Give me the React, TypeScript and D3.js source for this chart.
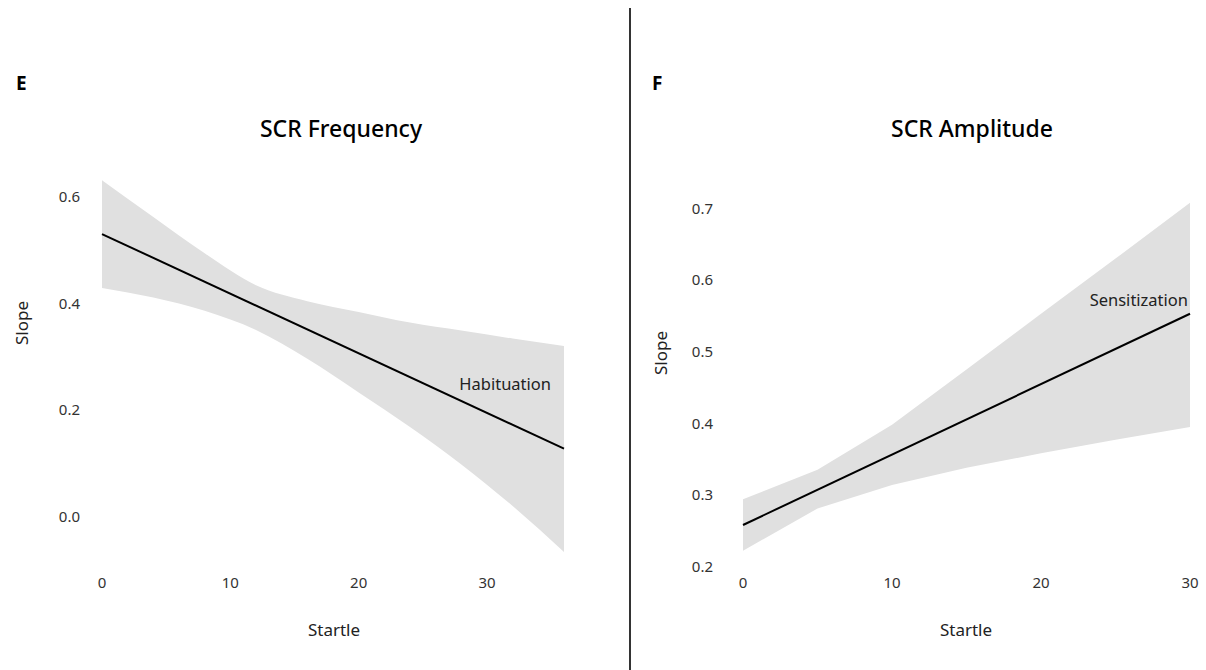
import React from "react";
import * as d3 from "d3";

// Panel E: SCR Frequency
const freqX = [0, 4, 8, 12, 16, 20, 24, 28, 32, 36];
const freqUpper = [0.631, 0.562, 0.494, 0.434, 0.404, 0.384, 0.364, 0.349, 0.334, 0.32];
const freqLower = [0.429, 0.411, 0.386, 0.35, 0.296, 0.233, 0.168, 0.098, 0.02, -0.066];
const freqFit = [0.53, 0.1275];
const freqXTicks = [0, 10, 20, 30];
const freqYTicks = [0.0, 0.2, 0.4, 0.6];

// Panel F: SCR Amplitude
const ampX = [0, 5, 10, 15, 20, 25, 30];
const ampUpper = [0.294, 0.335, 0.398, 0.475, 0.553, 0.63, 0.708];
const ampLower = [0.222, 0.281, 0.314, 0.338, 0.358, 0.377, 0.395];
const ampFit = [0.258, 0.553];
const ampXTicks = [0, 10, 20, 30];
const ampYTicks = [0.2, 0.3, 0.4, 0.5, 0.6, 0.7];

const FONT = "'Noto Sans', 'Open Sans', sans-serif";

type PanelProps = {
  letter: string;
  letterX: number;
  title: string;
  titleX: number;
  xs: number[];
  upper: number[];
  lower: number[];
  fit: number[];
  xDomain: [number, number];
  xRange: [number, number];
  yDomain: [number, number];
  yRange: [number, number];
  xTicks: number[];
  yTicks: number[];
  yTickX: number;
  yLabelX: number;
  yLabelY: number;
  xLabelX: number;
  label: string;
  labelX: number;
  labelY: number;
  curve: d3.CurveFactory;
};

function Panel(p: PanelProps) {
  const x = d3.scaleLinear().domain(p.xDomain).range(p.xRange);
  const y = d3.scaleLinear().domain(p.yDomain).range(p.yRange);
  const pts = p.xs.map((v, i) => ({ x: v, u: p.upper[i], l: p.lower[i] }));
  const area = d3
    .area<{ x: number; u: number; l: number }>()
    .x((d) => x(d.x))
    .y0((d) => y(d.l))
    .y1((d) => y(d.u))
    .curve(p.curve);
  const line = d3
    .line<number>()
    .x((_, i) => x(i === 0 ? p.xDomain[0] : p.xDomain[1]))
    .y((d) => y(d));
  return (
    <g fontFamily={FONT}>
      <text x={p.letterX} y={90} fontSize={19} fontWeight={700} fill="#000">
        {p.letter}
      </text>
      <text x={p.titleX} y={137} fontSize={23} fontWeight={500} textAnchor="middle" fill="#000">
        {p.title}
      </text>
      <path d={area(pts) || ""} fill="#e0e0e0" />
      <path d={line(p.fit) || ""} fill="none" stroke="#000" strokeWidth={2} />
      {p.yTicks.map((t) => (
        <text key={t} x={p.yTickX} y={y(t)} dy="0.35em" fontSize={15} textAnchor="end" fill="#333">
          {t.toFixed(1)}
        </text>
      ))}
      {p.xTicks.map((t) => (
        <text key={t} x={x(t)} y={583} dy="0.35em" fontSize={15} textAnchor="middle" fill="#333">
          {t}
        </text>
      ))}
      <text x={p.xLabelX} y={636} fontSize={17} textAnchor="middle" fill="#222">
        Startle
      </text>
      <text
        transform={`translate(${p.yLabelX},${p.yLabelY}) rotate(-90)`}
        fontSize={17}
        textAnchor="middle"
        fill="#222"
      >
        Slope
      </text>
      <text x={p.labelX} y={p.labelY} fontSize={16.5} textAnchor="end" fill="#222">
        {p.label}
      </text>
    </g>
  );
}

export default function App() {
  return (
    <svg
      width={1206}
      height={670}
      style={{ position: "absolute", left: 0, top: 0, background: "#fff" }}
    >
      <rect width={1206} height={670} fill="#fff" />
      <line x1={630} x2={630} y1={8} y2={670} stroke="#000" strokeWidth={1.6} />
      <Panel
        letter="E"
        letterX={16}
        title="SCR Frequency"
        titleX={341}
        xs={freqX}
        upper={freqUpper}
        lower={freqLower}
        fit={freqFit}
        xDomain={[0, 36]}
        xRange={[102, 564]}
        yDomain={[0, 0.6]}
        yRange={[516.7, 196.7]}
        xTicks={freqXTicks}
        yTicks={freqYTicks}
        yTickX={80}
        yLabelX={28}
        yLabelY={323}
        xLabelX={334}
        label="Habituation"
        labelX={551}
        labelY={390}
        curve={d3.curveMonotoneX}
      />
      <Panel
        letter="F"
        letterX={652}
        title="SCR Amplitude"
        titleX={972}
        xs={ampX}
        upper={ampUpper}
        lower={ampLower}
        fit={ampFit}
        xDomain={[0, 30]}
        xRange={[743, 1190]}
        yDomain={[0.2, 0.7]}
        yRange={[566.5, 208.5]}
        xTicks={ampXTicks}
        yTicks={ampYTicks}
        yTickX={713}
        yLabelX={667}
        yLabelY={353}
        xLabelX={966}
        label="Sensitization"
        labelX={1188}
        labelY={306}
        curve={d3.curveLinear}
      />
    </svg>
  );
}
